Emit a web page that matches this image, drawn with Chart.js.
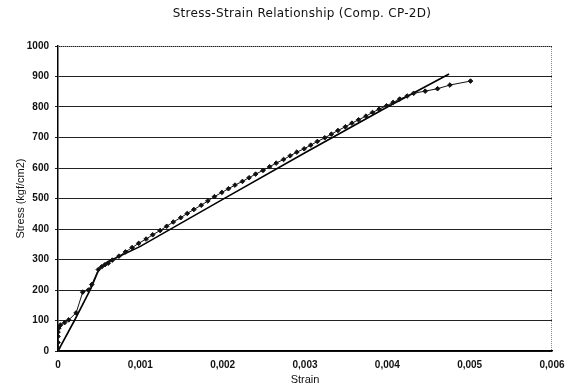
<!DOCTYPE html>
<html>
<head>
<meta charset="utf-8">
<script src="https://cdn.jsdelivr.net/npm/chart.js@4"></script>
<style>
  html, body { margin: 0; padding: 0; background: #fff; }
  #wrap { width: 569px; height: 388px; }
</style>
</head>
<body>
<div id="wrap"><canvas id="c"></canvas></div>
<script>
/* ── Données ── */
const TITLE = 'Stress-Strain Relationship (Comp. CP-2D)';
const MEAS_STRAIN = [0,0,0,0,0,0.00001,0.00003,0.00008,0.00013,0.00022,0.0003,0.00037,0.00041,0.00049,0.00053,0.00057,0.00061,
  0.00066,0.00074,0.00082,0.0009,0.00098,0.00107,0.00115,0.00124,0.00132,0.0014,0.00149,0.00157,0.00165,0.00174,0.00182,
  0.0019,0.00199,0.00207,0.00215,0.00224,0.00232,0.0024,0.00249,0.00257,0.00265,0.00274,0.00282,0.0029,0.00299,0.00307,
  0.00315,0.00324,0.00332,0.0034,0.00349,0.00357,0.00365,0.00374,0.00382,0.0039,0.00399,0.00407,0.00415,0.00424,0.00432,
  0.00446,0.00461,0.00476,0.00501];
const MEAS_STRESS = [0,10,28,48,62,75,85,93,102,125,193,200,218,267,276,283,288,
  298,311,325,339,353,367,381,395,409,423,437,451,464,478,492,
  506,520,532,544,556,568,580,592,604,616,628,640,652,663,675,
  687,699,711,723,735,747,758,770,782,793,804,815,826,836,845,
  852,860,872,885];
const MODEL_STRAIN = [0,0.0002,0.0004,0.0005,0.0006,0.001,0.002,0.003,0.004,0.00475];
const MODEL_STRESS = [0,100,205,270,292,343,497,650,800,908];

const X_TICKS = [0,0.001,0.002,0.003,0.004,0.005,0.006];
const Y_TICKS = [0,100,200,300,400,500,600,700,800,900,1000];

const pts = (xs, ys) => xs.map((x, i) => ({ x, y: ys[i] }));
const tickFont  = { family: 'Arial, "Liberation Sans", sans-serif', size: 10, weight: 'bold' };
const titleFont = { family: 'Arial, "Liberation Sans", sans-serif', size: 11, weight: 'normal' };

/* cadre pointillé haut / droite + titre centré sur la zone de tracé */
const frame = {
  id: 'frame',
  beforeDatasetsDraw(chart) {
    const { ctx, chartArea: a } = chart;
    ctx.save();
    ctx.strokeStyle = '#888';
    ctx.lineWidth = 1;
    ctx.setLineDash([1, 1]);
    ctx.beginPath();
    ctx.moveTo(a.left, a.top + 0.5);
    ctx.lineTo(a.right - 0.5, a.top + 0.5);
    ctx.lineTo(a.right - 0.5, a.bottom);
    ctx.stroke();
    ctx.restore();
  },
  afterDraw(chart) {
    const { ctx, chartArea: a } = chart;
    ctx.save();
    ctx.fillStyle = '#111';
    ctx.font = '12px "DejaVu Sans", sans-serif';
    ctx.letterSpacing = '0.3px';
    ctx.textAlign = 'center';
    ctx.textBaseline = 'middle';
    ctx.fillText(TITLE, (a.left + a.right) / 2 - 3, 14);
    ctx.restore();
  }
};

new Chart(document.getElementById('c'), {
  type: 'scatter',
  data: {
    datasets: [
      {
        label: 'Mesure',
        data: pts(MEAS_STRAIN, MEAS_STRESS),
        showLine: true,
        borderColor: '#111',
        backgroundColor: '#111',
        borderWidth: 1,
        pointStyle: 'rectRot',
        pointRadius: 2.3,
        pointHoverRadius: 2.3,
        tension: 0,
      },
      {
        label: 'Modèle',
        data: pts(MODEL_STRAIN, MODEL_STRESS),
        showLine: true,
        borderColor: '#000',
        borderWidth: 1.6,
        pointRadius: 0,
        tension: 0,
      },
    ],
  },
  options: {
    responsive: true,
    maintainAspectRatio: false,
    animation: false,
    layout: { padding: { left: 0, right: 17, top: 46, bottom: 0 } },
    plugins: {
      legend: { display: false },
      tooltip: { enabled: false },
      title: { display: false },
    },
    scales: {
      x: {
        type: 'linear',
        min: 0, max: 0.006,
        afterBuildTicks: s => { s.ticks = X_TICKS.map(v => ({ value: v })); },
        afterFit: s => { s.height = 37; s.paddingLeft = 0; s.paddingRight = 0; },
        grid: { display: false, drawTicks: false },
        border: { display: true, color: '#000', width: 1.5 },
        ticks: {
          color: '#111', font: tickFont, padding: 8, maxRotation: 0,
          callback: v => v === 0 ? '0' : v.toFixed(3).replace('.', ','),
        },
        title: { display: true, text: 'Strain', color: '#111', font: titleFont, padding: { top: 0, bottom: 1 } },
      },
      y: {
        min: 0, max: 1000,
        afterBuildTicks: s => { s.ticks = Y_TICKS.map(v => ({ value: v })); },
        afterFit: s => { s.width = 58; s.paddingTop = 0; s.paddingBottom = 0; },
        grid: { color: '#222', lineWidth: 1, tickLength: 3, drawOnChartArea: true },
        border: { display: true, color: '#000', width: 1.5 },
        ticks: { color: '#111', font: tickFont, padding: 6, callback: v => String(v) },
        title: { display: true, text: 'Stress (kgf/cm2)', color: '#111', font: titleFont, padding: { top: 14, bottom: 4 } },
      },
    },
  },
  plugins: [frame],
});
</script>
</body>
</html>
